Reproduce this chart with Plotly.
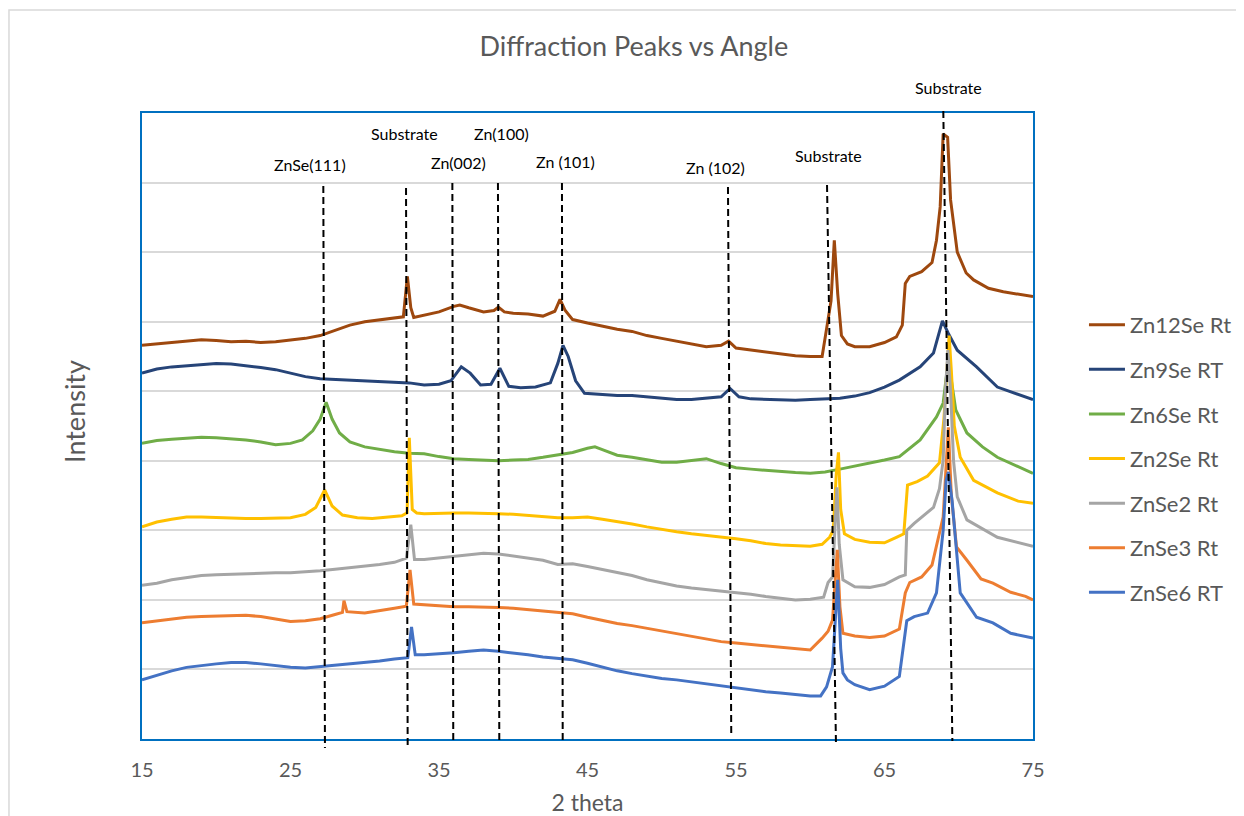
import plotly.graph_objects as go

# ---------------- data ----------------
zn12se_x = [15,16,17,18,19,20,21,22,23,24,25,26,27,28,29,30,31,32,32.6,32.87,33.1,33.3,34,35,36,36.4,37,38,38.7,39,39.4,40,41,42,42.8,43.15,43.5,44,45,46,47,48,49,50,51,52,53,54,54.5,55,56,57,58,59,60,60.8,61.1,61.4,61.62,61.85,62.1,62.5,63,64,65,65.8,66.2,66.4,66.7,67.5,68.2,68.5,68.75,68.95,69.25,69.45,69.9,70.5,71,72,73,74,75]
zn12se_y = [5660,5680,5700,5720,5740,5730,5710,5720,5700,5710,5730,5760,5800,5870,5950,6000,6030,6060,6070,6650,6200,6060,6090,6140,6220,6240,6200,6140,6160,6210,6140,6120,6110,6080,6150,6320,6160,6030,5980,5930,5890,5860,5800,5760,5720,5680,5640,5660,5720,5620,5590,5560,5540,5510,5500,5500,5900,6300,7170,6400,5800,5680,5640,5640,5700,5780,5950,6550,6650,6720,6850,7170,7650,8700,8650,7750,7000,6700,6600,6480,6430,6390,6360]

zn9se_x = [15,16,17,18,19,20,21,22,23,24,25,26,27,28,29,30,31,32,33,34,35,35.8,36.5,37.1,37.8,38.5,39.1,39.7,40.5,41.5,42.5,43.0,43.35,43.7,44.2,44.8,46,47,48,49,50,51,52,53,54,54.6,55.2,56,57,58,59,60,61,62,63,64,65,66,67.4,68.3,68.9,69.3,69.9,71.2,72.6,74,75]
zn9se_y = [5260,5320,5350,5370,5390,5400,5390,5370,5340,5310,5260,5210,5180,5170,5160,5150,5140,5130,5120,5090,5100,5150,5350,5260,5090,5100,5330,5070,5050,5060,5120,5400,5660,5500,5150,4970,4950,4940,4940,4920,4900,4880,4880,4900,4920,5040,4920,4890,4880,4880,4870,4880,4890,4900,4930,4980,5060,5160,5350,5550,6010,5830,5590,5350,5060,4960,4880]

zn6se_x = [15,16,17,18,19,20,21,22,23,24,25,25.8,26.5,27.0,27.4,27.8,28.3,29,30,31,32,33,34,35,36,37,38,39,40,41,42,43,44,45,45.5,46,47,48,49,50,51,52,53,54,55,56,57,58,59,60,61,62,63,64,65,66,67.4,68.5,68.95,69.3,69.55,69.8,70.55,71.6,72.6,74,75]
zn6se_y = [4250,4290,4310,4330,4340,4330,4320,4300,4270,4230,4250,4300,4430,4600,4840,4600,4400,4270,4200,4160,4130,4110,4100,4060,4030,4020,4010,4000,4010,4020,4050,4080,4120,4180,4200,4160,4080,4050,4010,3980,3980,4000,4030,3960,3900,3880,3860,3840,3830,3820,3840,3880,3920,3970,4010,4060,4300,4630,4830,5450,5100,4730,4400,4200,4050,3920,3820]

zn2se_x = [15,16,17,18,19,20,21,22,23,24,25,26,26.7,27.3,27.8,28.5,29.5,30.5,31.5,32.5,32.85,33.0,33.2,33.5,34,35,36,37,38,39,40,41,42,43,44,45,46,47,48,49,50,51,52,53,54,55,56,57,58,59,60,60.8,61.3,61.55,61.75,61.9,62.05,62.3,63,64,65,65.8,66.3,66.55,67.2,67.9,68.4,68.7,69.0,69.2,69.35,69.5,69.7,70.1,71,72.6,74,75]
zn2se_y = [3050,3120,3160,3190,3190,3180,3180,3170,3170,3175,3180,3230,3330,3580,3350,3220,3180,3170,3190,3210,3250,4330,3300,3250,3240,3250,3250,3250,3250,3240,3230,3210,3200,3180,3180,3190,3160,3130,3090,3050,3010,2980,2950,2930,2910,2880,2850,2810,2790,2780,2770,2800,2900,3000,3800,4120,3300,2950,2870,2830,2820,2900,2950,3650,3700,3780,3900,3970,4600,5300,5800,5300,4500,4050,3720,3540,3420,3390]

znse2_x = [15,16,17,18,19,20,21,22,23,24,25,26,27,28,29,30,31,32,32.8,33.1,33.35,34,35,36,37,38,39,40,41,42,43,44,45,46,47,48,49,50,51,52,53,54,55,56,57,58,59,60,60.9,61.2,61.5,61.7,61.8,61.95,62.2,63,64,65,66,66.4,66.5,67,68.3,68.7,68.95,69.1,69.27,69.45,69.65,69.9,70.55,72.6,75]
znse2_y = [2210,2240,2290,2320,2350,2360,2370,2380,2385,2390,2390,2400,2420,2440,2460,2490,2510,2540,2600,3080,2580,2580,2600,2620,2650,2670,2660,2630,2600,2570,2510,2520,2480,2440,2400,2350,2290,2240,2200,2170,2150,2130,2110,2080,2050,2030,2000,2010,2040,2250,2330,3200,3620,2800,2290,2190,2180,2220,2330,2360,3000,3100,3330,3600,4010,5000,5590,5000,4000,3480,3150,2900,2770]

znse3_x = [15,16,17,18,19,20,21,22,23,24,25,26,27,28,28.5,28.6,28.8,30,31,32,32.8,33.05,33.3,34,35,36,37,38,39,40,41,42,43,44,45,46,47,48,49,50,51,52,53,54,55,56,57,58,59,60,60.8,61.2,61.5,61.7,61.82,62.0,62.2,63,64,65,66,66.4,66.7,67.5,68.2,68.95,69.15,69.3,69.5,69.85,70.55,71.5,72.3,73.5,74.5,75]
znse3_y = [1670,1700,1730,1750,1760,1770,1780,1780,1760,1720,1690,1700,1730,1790,1820,1990,1830,1810,1840,1880,1910,2430,1940,1930,1910,1900,1900,1900,1890,1880,1860,1840,1820,1800,1750,1700,1660,1630,1590,1550,1510,1470,1440,1400,1380,1360,1330,1310,1290,1280,1450,1550,1710,2400,2720,1900,1520,1480,1460,1480,1580,2100,2250,2330,2500,3190,4000,4480,3500,2760,2570,2300,2240,2110,2050,2000]

znse6_x = [15,16,17,18,19,20,21,22,23,24,25,26,27,28,29,30,31,32,32.9,33.15,33.4,34,35,36,37,38,39,40,41,42,43,44,45,46,47,48,49,50,51,52,53,54,55,56,57,58,59,60,60.7,61.1,61.5,61.7,61.85,62.05,62.2,62.5,63,64,65,66,66.5,67,67.9,68.5,68.95,69.15,69.3,69.55,70.1,71.2,72.3,73.5,74.5,75]
znse6_y = [850,920,980,1030,1060,1080,1100,1100,1080,1050,1030,1020,1040,1060,1080,1090,1120,1150,1170,1610,1210,1210,1220,1240,1260,1280,1260,1240,1210,1180,1160,1140,1090,1030,980,940,900,870,850,820,790,760,740,710,680,660,640,620,620,750,1040,1700,2290,1300,950,850,780,710,760,900,1700,1760,1810,2100,3000,3720,3840,3430,2100,1750,1670,1520,1470,1450]

series_names = ["Zn12Se Rt", "Zn9Se RT", "Zn6Se Rt", "Zn2Se Rt", "ZnSe2 Rt", "ZnSe3 Rt", "ZnSe6 RT"]
series_x = [zn12se_x, zn9se_x, zn6se_x, zn2se_x, znse2_x, znse3_x, znse6_x]
series_y = [zn12se_y, zn9se_y, zn6se_y, zn2se_y, znse2_y, znse3_y, znse6_y]
series_colors = ["#9E480E", "#264478", "#70AD47", "#FFC000", "#A5A5A5", "#ED7D31", "#4472C4"]

# reference peak lines: label, angle at top of line, angle at bottom of line
peak_labels = ["ZnSe(111)", "Substrate", "Zn(002)", "Zn(100)", "Zn (101)", "Zn (102)", "Substrate", "Substrate"]
peak_angle_top = [27.21, 32.78, 35.90, 38.97, 43.28, 54.46, 61.13, 68.96]
peak_angle_bottom = [27.32, 32.89, 35.96, 39.06, 43.33, 54.68, 61.73, 69.57]
label_angle = [26.31, 32.71, 36.28, 39.18, 43.55, 53.59, 61.20, 69.28]

x_ticks = [15, 25, 35, 45, 55, 65, 75]

# ---------------- figure ----------------
FONT = "Lato, 'Open Sans', sans-serif"
GREY = "#595959"

fig = go.Figure()
for name, xs, ys, col in zip(series_names, series_x, series_y, series_colors):
    fig.add_trace(go.Scatter(x=xs, y=ys, mode="lines", name=name, legendgroup=name,
                             line=dict(color=col, width=3)))

# layout geometry (paper fractions)
line_top = [0.8834, 0.8802, 0.8882, 0.8882, 0.8882, 0.8818, 0.8850, 1.0032]
line_bot = [-0.0144, -0.0096, -0.0048, -0.0048, -0.0048, 0.0096, -0.0048, -0.0032]
label_y = [0.9185, 0.9665, 0.9217, 0.9665, 0.9233, 0.9137, 0.9329, 1.0415]

shapes = []
annotations = []
for i, lab in enumerate(peak_labels):
    shapes.append(dict(type="line", xref="x", yref="paper",
                       x0=peak_angle_top[i], x1=peak_angle_bottom[i],
                       y0=line_top[i], y1=line_bot[i],
                       line=dict(color="black", width=2, dash="7px,4px"), layer="above"))
    annotations.append(dict(x=label_angle[i], y=label_y[i], xref="x", yref="paper",
                            text=lab, showarrow=False, xanchor="center", yanchor="middle",
                            font=dict(family=FONT, size=16, color="black")))

# outer chart-area border
shapes.append(dict(type="rect", xref="paper", yref="paper",
                   x0=-0.1493, x1=1.3, y0=-0.4, y1=1.1645,
                   line=dict(color="#D9D9D9", width=1.5), layer="below"))

annotations.append(dict(x=-0.0752, y=0.524, xref="paper", yref="paper", text="Intensity",
                        showarrow=False, textangle=-90, xanchor="center", yanchor="middle",
                        font=dict(family=FONT, size=27, color=GREY)))

fig.update_layout(
    width=1236, height=808,
    margin=dict(l=134, r=211, t=105, b=77, autoexpand=False),
    paper_bgcolor="white", plot_bgcolor="white",
    title=dict(text="Diffraction Peaks vs Angle", x=0.552, xref="paper", y=0.9517, yref="container",
               xanchor="center", yanchor="middle",
               font=dict(family=FONT, size=27, color=GREY)),
    font=dict(family=FONT, color=GREY),
    showlegend=True,
    legend=dict(x=1.0572, y=0.695, xanchor="left", yanchor="top",
                font=dict(family=FONT, size=22, color=GREY), itemwidth=36,
                tracegroupgap=13, bgcolor="rgba(0,0,0,0)", traceorder="grouped"),
    shapes=shapes,
    annotations=annotations,
)
fig.update_xaxes(range=[15, 75], tickmode="array", tickvals=x_ticks,
                 ticktext=[str(t) for t in x_ticks], ticks="", showgrid=False,
                 zeroline=False, showline=True, mirror=True, linecolor="#0070C0", linewidth=2,
                 ticklabelstandoff=12,
                 tickfont=dict(family=FONT, size=20, color=GREY),
                 title=dict(text="2 theta", font=dict(family=FONT, size=23, color=GREY), standoff=15))
fig.update_yaxes(range=[0, 9000], dtick=1000, showticklabels=False, ticks="",
                 showgrid=True, gridcolor="#D9D9D9", gridwidth=1.5, zeroline=False,
                 showline=True, mirror=True, linecolor="#0070C0", linewidth=2)

fig.write_html("out.html")
